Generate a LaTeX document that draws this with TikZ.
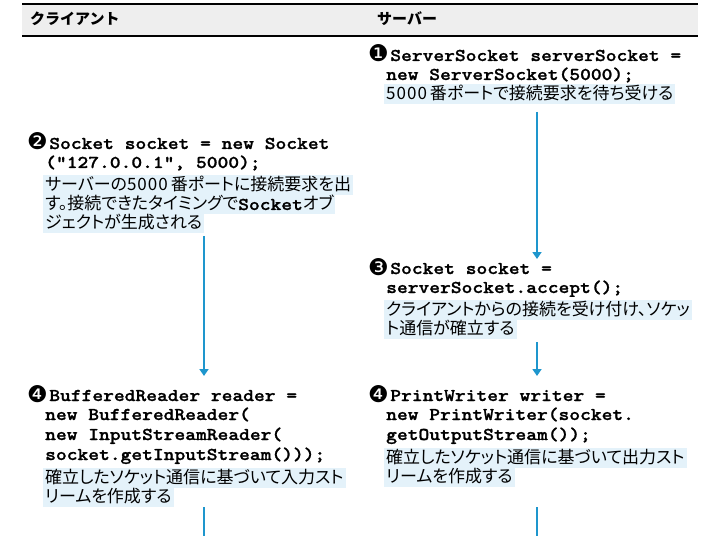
\documentclass[tikz,border=0pt]{standalone}
\usepackage{fontspec}
\usetikzlibrary{arrows.meta}
\setmainfont{Liberation Sans}
\newfontfamily\jpfont{Noto Sans CJK JP}[RawFeature=+palt]
\newfontfamily\jpheadfont{Noto Sans CJK JP}
\newfontfamily\jpnumfont{Noto Sans CJK JP}[LetterSpace=6]
\newfontfamily\codefont{lmmonolt10-bold.otf}[FakeStretch=1.14,FakeBold=1.2]
\newfontfamily\circfont{DejaVu Sans}
\definecolor{arrowblue}{RGB}{30,150,205}
\definecolor{hlblue}{RGB}{228,242,250}
\definecolor{headgray}{RGB}{238,238,238}
\newcommand{\hlline}[1]{{\setlength{\fboxsep}{0pt}\colorbox{hlblue}{\rule[-4.5pt]{0pt}{20pt}\hspace{2pt}#1\hspace{2pt}}}}
\newcommand{\cnum}[1]{\raisebox{-1pt}{\circfont\fontsize{23}{19}\selectfont #1}\hspace{1.5pt}}
\newcommand{\jnum}[1]{{\jpnumfont #1}\hspace{3pt}}
\newcommand{\cd}[1]{{\codefont\fontsize{18}{19}\selectfont #1}}
\tikzset{
  codeline/.style={anchor=base west, inner sep=0pt, font=\codefont\fontsize{18}{19}\selectfont},
  jpline/.style={anchor=base west, inner sep=0pt, font=\jpfont\fontsize{17}{19}\selectfont},
  headtext/.style={anchor=base west, inner sep=0pt, font=\jpheadfont\bfseries\fontsize{15}{18}\selectfont},
  flowarrow/.style={draw=arrowblue, line width=2.6pt, -{Triangle[length=7pt,width=9pt]}},
  stub/.style={draw=arrowblue, line width=2.6pt},
  ruleline/.style={draw=black, line width=2.8pt}
}
\begin{document}
\begin{tikzpicture}[x=1pt,y=-1pt]
\useasboundingbox (0,0) rectangle (720,540);
\fill[white] (0,0) rectangle (720,540);
% header
\fill[headgray] (22,4) rectangle (698,36);
\coordinate (hl1) at (22,4); \coordinate (hr1) at (698,4);
\coordinate (hl2) at (22,36); \coordinate (hr2) at (698,36);
\draw[ruleline] (hl1) -- (hr1);
\draw[ruleline] (hl2) -- (hr2);
\node[headtext] (hclient) at (30,25) {クライアント};
\node[headtext] (hserver) at (377,25) {サーバー};

% block 1 (server)
\node[codeline] (s1a) at (368,61) {\cnum{❶}ServerSocket serverSocket =};
\node[codeline] (s1b) at (386,80) {new ServerSocket(5000);};
\node[jpline] (s1c) at (384,100) {\hlline{\jnum{5000}番ポートで接続要求を待ち受ける}};

% block 2 (client)
\node[codeline] (c2a) at (27,149) {\cnum{❷}Socket socket = new Socket};
\node[codeline] (c2b) at (45,168) {("127.0.0.1", 5000);};
\node[jpline] (c2c) at (43,191) {\hlline{サーバーの\jnum{5000}番ポートに接続要求を出}};
\node[jpline] (c2d) at (43,210) {\hlline{す。接続できたタイミングで\cd{Socket}オブ}};
\node[jpline] (c2e) at (43,229) {\hlline{ジェクトが生成される}};

% block 3 (server)
\node[codeline] (s3a) at (368,274) {\cnum{❸}Socket socket =};
\node[codeline] (s3b) at (386,293) {serverSocket.accept();};
\node[jpline] (s3c) at (384,315) {\hlline{クライアントからの接続を受け付け、ソケッ}};
\node[jpline] (s3d) at (384,334) {\hlline{ト通信が確立する}};

% block 4 (client)
\node[codeline] (c4a) at (27,401) {\cnum{❹}BufferedReader reader =};
\node[codeline] (c4b) at (45,420) {new BufferedReader(};
\node[codeline] (c4c) at (45,440) {new InputStreamReader(};
\node[codeline] (c4d) at (45,460) {socket.getInputStream()));};
\node[jpline] (c4e) at (43,483) {\hlline{確立したソケット通信に基づいて入力スト}};
\node[jpline] (c4f) at (43,502) {\hlline{リームを作成する}};

% block 4 (server)
\node[codeline] (s4a) at (368,401) {\cnum{❹}PrintWriter writer =};
\node[codeline] (s4b) at (386,420) {new PrintWriter(socket.};
\node[codeline] (s4c) at (386,440) {getOutputStream());};
\node[jpline] (s4d) at (384,463) {\hlline{確立したソケット通信に基づいて出力スト}};
\node[jpline] (s4e) at (384,482) {\hlline{リームを作成する}};

% arrows
\coordinate (a1s) at (537,112); \coordinate (a1e) at (537,259);
\coordinate (a2s) at (204,236); \coordinate (a2e) at (204,376);
\coordinate (a3s) at (537,342); \coordinate (a3e) at (537,376);
\coordinate (t1s) at (204,507); \coordinate (t1e) at (204,536);
\coordinate (t2s) at (537,507); \coordinate (t2e) at (537,536);
\draw[flowarrow] (a1s) -- (a1e);
\draw[flowarrow] (a2s) -- (a2e);
\draw[flowarrow] (a3s) -- (a3e);
\draw[stub] (t1s) -- (t1e);
\draw[stub] (t2s) -- (t2e);
\end{tikzpicture}
\end{document}
